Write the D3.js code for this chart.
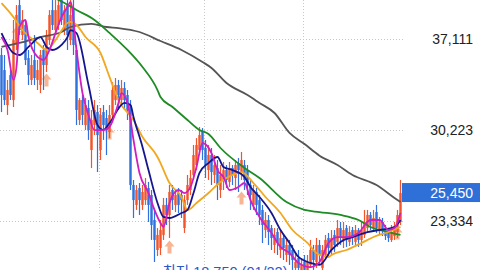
<!DOCTYPE html>
<html>
<head>
<meta charset="utf-8">
<script src="https://cdn.jsdelivr.net/npm/d3@7"></script>
<style>
  html, body { margin: 0; padding: 0; background: #fff; }
  svg { display: block; }
  .grid { stroke: #c8c8c8; stroke-width: 1; stroke-dasharray: 1 2; }
  .tick-label { font-family: "Liberation Sans", Arial, sans-serif; font-size: 14px; fill: #222; }
  .ma { fill: none; stroke-width: 1.8; stroke-linejoin: round; }
</style>
</head>
<body>
<svg></svg>
<script>
const w = 480;
const h = 270;

// Data
const tickValues = [37111, 30223, 23334];
const lastPrice = 25450;
const lowPrice = 18750;
const lowIndex = 100;
const lowLabel = "최저 18,750 (01/22)";
const monthBreaks = [32.5, 67.5, 100.5];

// [open, high, low, close]
const candles = [
  [35900, 36430, 31580, 32870], [34760, 35900, 32110, 32490], [32110, 34010, 31360, 33250],
  [34380, 34760, 32490, 32870], [32490, 38550, 31960, 37030], [36660, 39680, 36280, 38930],
  [39680, 40440, 37410, 37790], [37410, 39300, 37030, 38550], [38170, 38550, 35140, 35520],
  [35670, 36280, 33630, 34380], [34010, 35900, 33630, 35140], [35520, 37410, 33630, 34160],
  [34010, 35520, 33250, 34760], [33630, 36280, 33020, 35900], [36280, 36660, 33250, 35140],
  [35140, 37790, 34610, 37410], [37030, 39300, 36660, 38930], [39300, 40060, 37790, 38170],
  [37790, 40820, 37410, 39300], [38170, 40060, 37790, 39680], [40060, 41200, 38170, 38550],
  [37790, 39680, 37410, 39300], [39680, 40060, 36280, 37410], [37030, 40820, 36660, 38930],
  [39300, 40060, 35900, 36660], [36280, 36660, 30600, 31740], [30980, 32640, 30600, 32490],
  [32490, 32870, 30600, 31360], [30600, 32640, 30220, 32110], [31890, 32490, 29470, 30220],
  [28710, 31740, 27340, 30980], [30600, 32490, 29840, 31740], [31580, 32110, 27040, 29840],
  [28710, 31890, 27950, 31360], [31580, 32110, 29470, 30600], [31130, 31740, 28330, 30220],
  [30070, 32110, 29610, 31360], [31360, 33850, 31130, 33250], [32490, 34160, 32110, 33630],
  [33630, 34010, 31740, 32870], [32490, 34010, 32110, 33400], [33400, 33850, 31740, 32490],
  [32870, 33250, 30980, 31740], [32110, 32490, 25680, 26060], [26060, 26440, 23560, 24920],
  [24550, 26060, 24170, 25680], [25830, 26210, 23790, 24920], [24550, 26060, 24170, 25530],
  [24920, 26590, 24550, 26060], [25830, 26290, 23260, 24550], [25300, 25680, 21900, 23030],
  [23410, 24170, 20230, 21900], [21140, 22800, 20680, 22280], [21290, 23410, 20760, 22650],
  [22280, 25080, 21900, 24550], [24550, 25080, 23030, 23790], [23790, 26060, 22050, 25530],
  [25680, 26060, 24170, 24920], [24550, 25680, 24010, 25300], [25450, 25830, 23940, 24550],
  [25300, 25680, 23560, 24920], [22800, 25300, 22430, 24920], [24920, 26820, 24550, 26060],
  [25680, 27190, 25300, 26590], [26820, 29090, 26440, 28330], [27570, 29610, 27190, 29090],
  [28710, 30450, 28330, 29840], [30070, 30370, 27950, 28710], [28860, 29470, 26590, 27570],
  [27190, 29090, 26440, 28330], [28330, 28860, 26060, 27040], [26820, 28330, 26210, 27570],
  [27340, 27950, 24920, 26060], [25680, 27570, 25080, 26820], [26440, 27800, 25680, 27190],
  [27190, 27570, 25830, 26440], [26290, 27800, 25910, 27340], [27340, 27570, 26060, 26820],
  [26590, 27950, 25680, 27570], [27720, 28100, 25530, 27190], [27040, 28560, 26440, 27950],
  [27570, 27950, 25680, 26440], [27190, 27570, 25300, 26060], [26060, 26440, 24170, 25300],
  [24550, 26060, 24170, 25680], [25530, 25830, 23790, 24550], [24920, 25300, 23030, 23790],
  [24170, 24550, 21670, 23030], [22650, 24010, 22050, 23410], [23410, 23790, 21520, 22500],
  [22800, 23030, 21140, 22050], [21520, 22800, 20910, 22280], [22500, 22800, 20760, 21670],
  [21140, 22650, 20530, 22050], [22050, 22280, 20380, 21290], [20760, 21900, 20230, 21520],
  [21520, 21900, 20010, 20760], [21140, 21520, 19630, 20380], [19780, 20990, 19250, 20230],
  [20530, 21140, 19020, 19780], [19470, 20530, 18750, 20010], [20230, 20760, 19020, 19630],
  [19470, 20760, 19170, 20230], [20010, 21900, 19780, 21140], [21140, 21520, 19630, 20380],
  [20230, 22050, 19780, 21520], [21520, 21900, 20010, 20760], [19780, 21520, 19470, 21140],
  [20760, 22280, 20380, 21900], [22050, 22430, 20610, 21290], [21140, 22650, 20760, 22050],
  [22280, 22650, 20990, 21520], [21750, 23410, 21370, 22800], [22800, 23260, 21520, 22050],
  [21900, 23260, 21290, 22650], [22800, 23030, 21370, 21900], [21750, 22950, 21440, 22500],
  [22650, 22880, 21520, 22050], [21750, 23030, 21370, 22650], [22650, 22800, 21370, 21900],
  [21900, 23260, 21440, 22650], [22280, 24170, 22050, 23260], [22800, 24170, 22500, 23790],
  [23790, 24010, 22650, 23030], [22800, 24170, 22500, 23560], [24010, 24550, 22430, 22800],
  [22650, 23640, 22280, 23260], [23260, 23560, 22200, 22650], [22800, 23030, 21900, 22200],
  [22650, 22800, 21750, 22050], [21900, 23030, 21750, 22500], [22200, 23260, 21900, 22950],
  [22500, 24170, 22050, 23790], [23260, 26440, 23030, 25450]
];

// moving averages: [candle index, value]
const ma5 = [
  [0, 37260], [2, 36280], [4, 34010], [5, 34990], [6, 38020], [8, 38550], [9, 37260],
  [12, 35750], [14, 35520], [16, 36280], [18, 37560], [20, 38770], [22, 39530], [23, 39910],
  [25, 36280], [27, 33020], [29, 31360], [31, 30220], [34, 30220], [36, 30450], [39, 32270],
  [40, 33020], [42, 32270], [44, 29470], [46, 26970], [49, 25450], [51, 24170], [53, 23180],
  [54, 22880], [56, 24700], [59, 25680], [61, 25450], [63, 25910], [65, 27420], [67, 29240],
  [70, 28480], [72, 27190], [74, 26660], [76, 25680], [79, 25910], [81, 26210], [83, 24920],
  [86, 23640], [90, 22430], [93, 21370], [96, 20910], [99, 20160], [103, 19850], [106, 20230],
  [109, 21670], [112, 22120], [115, 22120], [119, 22430], [123, 23410], [126, 23410],
  [129, 22650], [131, 22800], [133, 23940]
];
const ma10 = [
  [0, 37560], [4, 36050], [6, 35900], [9, 36510], [13, 37260], [15, 36510], [17, 36280],
  [20, 36660], [22, 37260], [23, 37790], [25, 37560], [29, 33630], [32, 30600], [34, 30220],
  [36, 30750], [41, 32270], [43, 32110], [44, 31210], [47, 28940], [49, 27190], [52, 24700],
  [54, 23640], [56, 23560], [60, 23940], [62, 24170], [64, 25450], [66, 26970], [69, 27720],
  [72, 28180], [74, 27420], [77, 27190], [81, 26660], [83, 25910], [86, 25150], [90, 23940],
  [93, 22650], [96, 21670], [99, 20610], [103, 20160], [106, 20010], [110, 21140],
  [113, 21750], [117, 22120], [122, 22500], [126, 22650], [131, 22880], [133, 23410]
];
const ma20 = [
  [0, 39830], [4, 38770], [7, 37790], [12, 36810], [15, 36280], [18, 37030], [22, 38320],
  [23, 38400], [25, 38170], [28, 37260], [33, 36050], [36, 34240], [39, 32490], [44, 30980],
  [47, 29690], [52, 28180], [53, 27720], [56, 26210], [60, 25150], [62, 24170], [65, 24700],
  [69, 25450], [73, 26290], [77, 26820], [80, 27040], [84, 26210], [88, 25150], [93, 23940],
  [97, 22650], [102, 21670], [105, 20910], [109, 20610], [110, 20760], [115, 21140],
  [120, 21670], [124, 22120], [129, 22500], [133, 22880]
];
const ma60 = [
  [17, 40290], [21, 39840], [25, 39310], [31, 38550], [36, 37570], [42, 36280], [47, 34990],
  [52, 33250], [53, 32720], [57, 31960], [62, 30980], [66, 30220], [69, 29920], [73, 28860],
  [81, 27350], [86, 26590], [95, 24770], [101, 24170], [106, 24010], [113, 23790],
  [119, 23410], [123, 22880], [129, 22500], [133, 22280]
];
const ma120 = [
  [0, 36510], [6, 36810], [13, 37260], [20, 37640], [23, 38020], [30, 38250], [35, 38020],
  [39, 37940], [46, 37640], [53, 36960], [60, 36280], [67, 35370], [70, 34920], [75, 33780],
  [82, 32870], [86, 32270], [91, 31510], [96, 30000], [101, 29160], [106, 28280],
  [112, 27570], [117, 26820], [125, 26060], [131, 25080], [133, 24770]
];

// buy signal arrows: [candle index, price at arrow centre]
const signals = [[5, 37560], [15, 34010], [36, 29990], [56, 21370], [80, 25080], [132, 22430]];

const svg = d3.select("svg")
    .attr("width", w)
    .attr("height", h);

const plotRight = 402;

const x = d3.scaleLinear()
    .domain([-0.5, candles.length - 0.5])
    .range([0, plotRight]);

const y = d3.scaleLinear()
    .domain([tickValues[0], tickValues[2]])
    .range([39, 221]);

// grid
svg.selectAll(".hgrid")
    .data(tickValues)
    .enter()
    .append("line")
    .attr("class", "grid")
    .attr("x1", 0)
    .attr("x2", plotRight + 1)
    .attr("y1", d => Math.round(y(d)) + 0.5)
    .attr("y2", d => Math.round(y(d)) + 0.5);

svg.selectAll(".vgrid")
    .data(monthBreaks)
    .enter()
    .append("line")
    .attr("class", "grid")
    .attr("x1", d => Math.round(x(d)) + 0.5)
    .attr("x2", d => Math.round(x(d)) + 0.5)
    .attr("y1", 0)
    .attr("y2", h);

// signal arrows
const arrow = d3.path();
arrow.moveTo(0, -6.5);
arrow.lineTo(5, -0.5);
arrow.lineTo(2, -0.5);
arrow.lineTo(2, 6.5);
arrow.lineTo(-2, 6.5);
arrow.lineTo(-2, -0.5);
arrow.lineTo(-5, -0.5);
arrow.closePath();

svg.selectAll(".signal")
    .data(signals)
    .enter()
    .append("path")
    .attr("class", "signal")
    .attr("d", arrow.toString())
    .attr("transform", d => `translate(${x(d[0])},${y(d[1])})`)
    .attr("fill", "#f7b593");

// candles
const up = "#f2552b";
const down = "#2f72de";

const candle = svg.append("g")
    .selectAll("g")
    .data(candles)
    .enter()
    .append("g")
    .attr("fill", d => d[3] >= d[0] ? up : down)
    .attr("stroke", d => d[3] >= d[0] ? up : down);

candle.append("line")
    .attr("x1", (d, i) => x(i))
    .attr("x2", (d, i) => x(i))
    .attr("y1", d => y(d[1]))
    .attr("y2", d => y(d[2]))
    .attr("stroke-width", 1.2);

candle.append("rect")
    .attr("x", (d, i) => x(i) - 1.2)
    .attr("width", 2.4)
    .attr("y", d => y(Math.max(d[0], d[3])))
    .attr("height", d => Math.max(1, Math.abs(y(d[0]) - y(d[3]))))
    .attr("stroke", "none");

// moving averages
const line = d3.line()
    .x(d => x(d[0]))
    .y(d => y(d[1]))
    .curve(d3.curveMonotoneX);

const maSeries = [
  { data: ma120, color: "#555555" },
  { data: ma60, color: "#1e8c24" },
  { data: ma20, color: "#f0a820" },
  { data: ma10, color: "#15168e" },
  { data: ma5, color: "#d01ec0" }
];

svg.selectAll(".ma")
    .data(maSeries)
    .enter()
    .append("path")
    .attr("class", "ma")
    .attr("stroke", d => d.color)
    .attr("d", d => line(d.data));

// price labels
svg.selectAll(".tick-label")
    .data(tickValues)
    .enter()
    .append("text")
    .attr("class", "tick-label")
    .attr("x", 473)
    .attr("y", d => y(d))
    .attr("dy", "0.36em")
    .attr("text-anchor", "end")
    .text(d => d3.format(",")(d));

// current price box
svg.append("rect")
    .attr("x", plotRight)
    .attr("y", y(lastPrice) - 10)
    .attr("width", w - plotRight)
    .attr("height", 19)
    .attr("fill", "#2e6fd8");

svg.append("text")
    .attr("class", "tick-label")
    .attr("x", 473)
    .attr("y", y(lastPrice))
    .attr("dy", "0.36em")
    .attr("text-anchor", "end")
    .style("fill", "#fff")
    .text(d3.format(",")(lastPrice));

// low label
svg.append("text")
    .attr("x", x(lowIndex) - 14)
    .attr("y", y(lowPrice) - 5)
    .attr("text-anchor", "end")
    .attr("font-family", "'Liberation Sans', 'Noto Sans CJK KR', sans-serif")
    .attr("font-size", 14.5)
    .attr("fill", "#2b57c9")
    .text(lowLabel);
</script>
</body>
</html>
